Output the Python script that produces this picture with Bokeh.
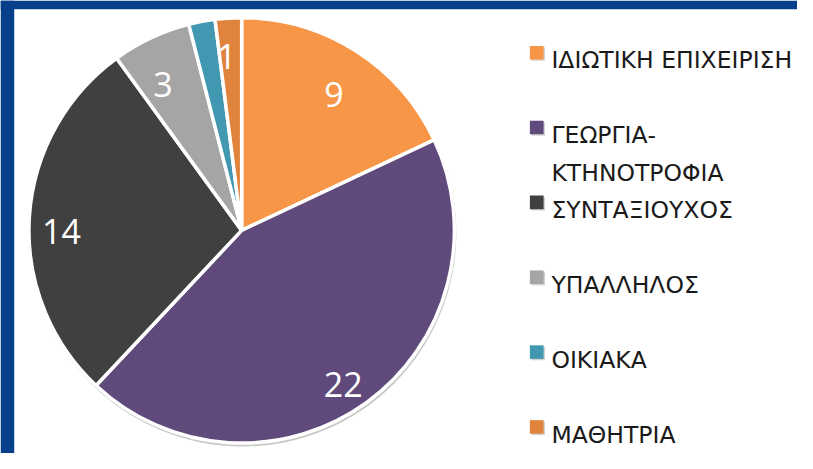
from math import pi, cos, sin
from bokeh.plotting import figure
from bokeh.models import Range1d, ColumnDataSource
from bokeh.core.properties import value
from bokeh.embed import file_html
from bokeh.resources import INLINE

# ---- data ----
categories = ["ΙΔΙΩΤΙΚΗ ΕΠΙΧΕΙΡΙΣΗ", "ΓΕΩΡΓΙΑ-\nΚΤΗΝΟΤΡΟΦΙΑ", "ΣΥΝΤΑΞΙΟΥΧΟΣ",
              "ΥΠΑΛΛΗΛΟΣ", "ΟΙΚΙΑΚΑ", "ΜΑΘΗΤΡΙΑ"]
counts = [9, 22, 14, 3, 1, 1]
slice_labels = ["9", "22", "14", "3", "", "1"]
colors = ["#F79646", "#5F4A7B", "#404040", "#A5A5A5", "#4298B0", "#E0833C"]

# ---- layout: a 813x469 design space drawn into a figure that fits the page ----
RW, RH = 813, 469
W, H = 797, 453
p = figure(width=W, height=H, x_range=Range1d(0, RW), y_range=Range1d(0, RH),
           output_backend="svg", toolbar_location=None,
           x_axis_type=None, y_axis_type=None,
           min_border=0,
           border_fill_color="white", background_fill_color="white",
           outline_line_color=None)
p.grid.visible = False


def Y(img_y):
    return RH - img_y


# blue frame strips (top and left)
BLUE = "#063F8A"
p.quad(left=[0, 0], right=[14, RW], bottom=[0, Y(9)], top=[RH, RH],
       fill_color=BLUE, line_color=None)

cx, cy, R = 246, Y(238), 217
total = float(sum(counts))
starts, ends, lx, ly = [], [], [], []
cum = 0.0
for c in counts:
    a_end = pi / 2 - 2 * pi * cum / total
    cum += c
    a_start = pi / 2 - 2 * pi * cum / total
    starts.append(a_start)
    ends.append(a_end)
    mid = (a_start + a_end) / 2
    f = 0.89 if c / total < 0.05 else 0.835
    lx.append(cx + f * R * cos(mid) - 3)
    ly.append(cy + f * R * sin(mid) - 12.5)

src = ColumnDataSource(dict(start=starts, end=ends, color=colors,
                            lx=lx, ly=ly, lab=slice_labels))

# soft shadow under the pie
p.circle(x=cx + 1, y=cy - 2.5, radius=R + 1, fill_color="#c8c8c8", line_color=None)
p.wedge(x=cx, y=cy, radius=R, start_angle="start", end_angle="end",
        fill_color="color", line_color="white", line_width=3.5, source=src)
p.text(x="lx", y="ly", text="lab", source=src, text_color="white",
       text_font=value("Open Sans"), text_font_size="34px",
       text_align="center", text_baseline="alphabetic")

# ---- legend ----
sq_x, sq_y, tx, tx_y, tt = [], [], [], [], []
sq_c = []
for k, (name, col) in enumerate(zip(categories, colors)):
    base = 62 + 77.5 * k
    sq_x.append(547)
    sq_y.append(Y(base - 8))
    sq_c.append(col)
    for j, line in enumerate(name.split("\n")):
        tx.append(562)
        tx_y.append(Y(base + 39 * j))
        tt.append(line)

p.rect(x=[x + 1.5 for x in sq_x], y=[y - 1.5 for y in sq_y], width=14, height=14,
       fill_color="#d4d4d4", line_color=None)
p.rect(x=sq_x, y=sq_y, width=14, height=14, fill_color=sq_c, line_color=None)
p.text(x=tx, y=tx_y, text=tt, text_color="#1a1a1a",
       text_font=value("DejaVu Sans"), text_font_size="23.5px",
       text_align="left", text_baseline="alphabetic")

open("out.html", "w").write(file_html(p, INLINE))
